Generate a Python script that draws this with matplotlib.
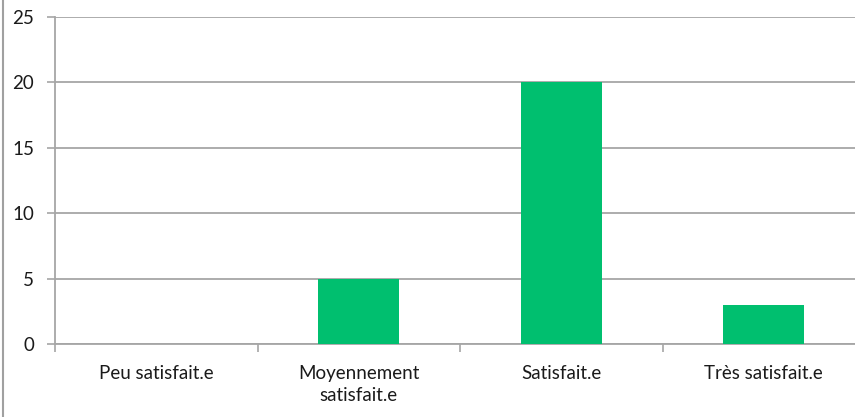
import matplotlib.pyplot as plt
from matplotlib.lines import Line2D
import numpy as np

categories = ['Peu satisfait.e', 'Moyennement\nsatisfait.e', 'Satisfait.e', 'Très satisfait.e']
values = [0, 5, 20, 3]
y_ticks = [0, 5, 10, 15, 20, 25]

grid_color = '#a6a6a6'
bar_color = '#00bf6f'

plt.rcParams['font.family'] = ['Lato', 'DejaVu Sans']

fig = plt.figure(figsize=(8.55, 4.17), dpi=100)
ax = fig.add_axes([55 / 855, 73 / 417, 810 / 855, 327 / 417])

x = np.arange(len(categories))
ax.bar(x, values, width=0.4, color=bar_color, zorder=3)

ax.set_xlim(-0.5, len(categories) - 0.5)
ax.set_ylim(0, 25)
ax.set_yticks(y_ticks)
ax.set_yticklabels([str(v) for v in y_ticks], fontsize=13.5, color='#1a1a1a')
ax.yaxis.grid(True, color=grid_color, linewidth=1.3)
ax.set_axisbelow(True)

# category labels on major ticks, boundaries on minor ticks
ax.set_xticks(x)
ax.set_xticklabels(categories, fontsize=13.5, color='#1a1a1a', linespacing=1.4)
ax.set_xticks(np.arange(-0.5, len(categories) + 0.5, 1), minor=True)
ax.tick_params(axis='x', which='major', length=0, pad=15)
ax.tick_params(axis='x', which='minor', length=6, width=1.2, color=grid_color)
ax.tick_params(axis='y', length=6, width=1.2, color=grid_color, pad=9)

for side in ['top', 'right']:
    ax.spines[side].set_visible(False)
for side in ['left', 'bottom']:
    ax.spines[side].set_color(grid_color)
    ax.spines[side].set_linewidth(1.3)

# outer chart border (only left edge visible in crop)
fig.add_artist(Line2D([3 / 855, 3 / 855], [0, 1], transform=fig.transFigure,
                      color='#a0a0a0', linewidth=1.5))

fig.savefig('out.png', dpi=100)
